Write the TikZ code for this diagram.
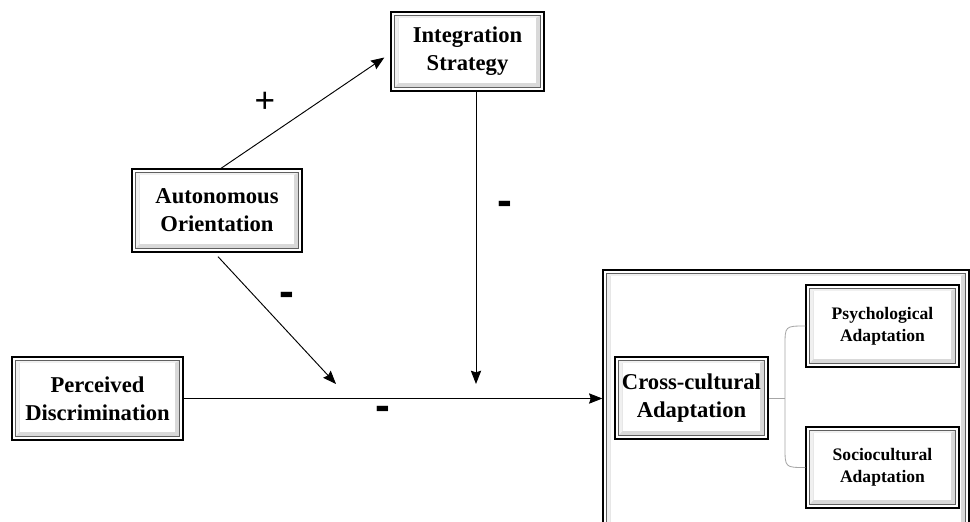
\documentclass[tikz,border=0pt]{standalone}
\usepackage{fontspec}
\setmainfont{Liberation Serif}
\setsansfont{Liberation Sans}
\usetikzlibrary{arrows.meta,calc}
\begin{document}
\begin{tikzpicture}[x=0.03cm,y=-0.03cm,
  bevel/.style={
    draw=black, line width=1.1pt, fill=white, inner sep=0pt, align=center,
    path picture={
      \fill[gray!30] ([xshift=3.2pt,yshift=-3.2pt]path picture bounding box.north west)
        rectangle ([xshift=-3.2pt,yshift=3.2pt]path picture bounding box.south east);
      \fill[gray!12] ([xshift=3.2pt,yshift=-3.2pt]path picture bounding box.north west)
        -- ([xshift=-3.2pt,yshift=-3.2pt]path picture bounding box.north east)
        -- ([xshift=-7pt,yshift=-5pt]path picture bounding box.north east)
        -- ([xshift=6.5pt,yshift=-5pt]path picture bounding box.north west)
        -- ([xshift=6.5pt,yshift=7pt]path picture bounding box.south west)
        -- ([xshift=3.2pt,yshift=3.2pt]path picture bounding box.south west) -- cycle;
      \fill[white] ([xshift=6.5pt,yshift=-5pt]path picture bounding box.north west)
        rectangle ([xshift=-7pt,yshift=7pt]path picture bounding box.south east);
      \draw[gray!75!black, line width=0.6pt] ([xshift=3.2pt,yshift=-3.2pt]path picture bounding box.north west)
        rectangle ([xshift=-3.2pt,yshift=3.2pt]path picture bounding box.south east);
    }},
  bigtxt/.style={font=\bfseries\fontsize{19.3}{24}\selectfont},
  smalltxt/.style={font=\bfseries\fontsize{15}{18.7}\selectfont},
  arr/.style={line width=0.8pt, -{Stealth[length=4mm,width=3.1mm,inset=0.5mm]}},
  brace/.style={draw=gray!70, line width=0.7pt},
  minus/.style={font=\sffamily\bfseries\fontsize{38}{38}\selectfont, inner sep=0pt},
  plus/.style={font=\sffamily\fontsize{30}{30}\selectfont, inner sep=0pt}
]
\useasboundingbox (0,0) rectangle (970,521);

% big container
\node[bevel, minimum width=10.98cm, minimum height=7.8cm] (outer) at (786,400) {};

\node[bevel, bigtxt, minimum width=4.59cm, minimum height=2.37cm] (int) at (467.5,51.5) {Integration\\Strategy};
\node[bevel, bigtxt, minimum width=5.1cm, minimum height=2.49cm] (aut) at (217,210.5) {Autonomous\\Orientation};
\node[bevel, bigtxt, minimum width=5.13cm, minimum height=2.49cm] (per) at (97.5,398.5) {Perceived\\Discrimination};
\node[bevel, bigtxt, minimum width=4.59cm, minimum height=2.46cm] (cro) at (691.5,398) {Cross-cultural\\Adaptation};
\node[bevel, smalltxt, minimum width=4.59cm, minimum height=2.46cm] (psy) at (882.5,326) {Psychological\\Adaptation};
\node[bevel, smalltxt, minimum width=4.59cm, minimum height=2.43cm] (soc) at (882.5,467.5) {Sociocultural\\Adaptation};

\coordinate (m1) at (336,384);
\coordinate (m2) at (476,384);

% connectors
\draw[arr] ($(aut.north)+(4,0)$) -- ($(int.west)+(-6,6)$);
\draw[arr] ($(int.south)+(8.5,0)$) -- (m2);
\draw[arr] ($(aut.south)+(1,4)$) -- (m1);
\draw[arr] (per.east) -- (per.east -| outer.west);

% bracket
\draw[brace] (cro.east) -- (785,398);
\draw[brace] (psy.west) .. controls (785,326) .. (785,346) -- (785,447) .. controls (785,467.5) .. (soc.west);

% signs
\node[plus] (s1) at (265,102) {+};
\node[minus] (s2) at (505,208) {-};
\node[minus] (s3) at (287,299) {-};
\node[minus] (s4) at (383,413) {-};
\end{tikzpicture}
\end{document}
